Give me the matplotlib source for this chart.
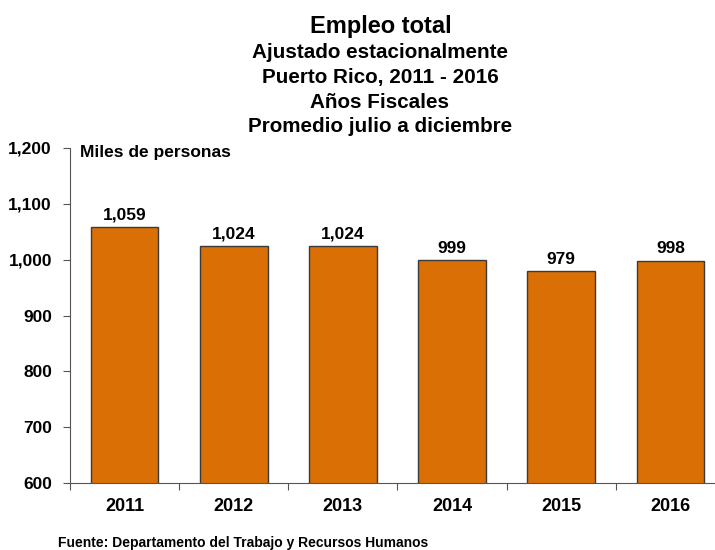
import matplotlib.pyplot as plt
from matplotlib.ticker import FuncFormatter

# Datos
anios = ['2011', '2012', '2013', '2014', '2015', '2016']
empleo = [1059, 1024, 1024, 999, 979, 998]

plt.rcParams['font.family'] = ['Liberation Sans', 'DejaVu Sans']
plt.rcParams['font.weight'] = 'bold'

fig = plt.figure(figsize=(7.15, 5.5), dpi=100)
ax = fig.add_axes([70 / 715, 1 - 483 / 550, 655 / 715, (483 - 148) / 550])

x = range(len(anios))
ax.bar(x, empleo, width=0.62, color='#D96F05', edgecolor='#3a3a3a', linewidth=1.0)

for xi, v in zip(x, empleo):
    ax.text(xi, v + 8, f'{v:,}', ha='center', va='bottom', fontsize=12.5,
            fontweight='bold')

ax.set_ylim(600, 1200)
ax.set_xlim(-0.5, len(anios) - 0.5)
ax.set_yticks(range(600, 1201, 100))
ax.yaxis.set_major_formatter(FuncFormatter(lambda v, p: f'{int(v):,}'))
ax.set_xticks([i - 0.5 for i in range(len(anios))])
ax.set_xticklabels([])
ax.set_xticks(list(x), minor=True)
ax.set_xticklabels(anios, minor=True)
ax.tick_params(axis='x', which='minor', length=0, pad=11, labelsize=13)
ax.tick_params(axis='x', which='major', direction='out', length=5, color='#555555')
ax.tick_params(axis='y', direction='out', length=5, color='#555555', labelsize=12.5, pad=8)
for t in ax.get_xticklabels(minor=True) + ax.get_yticklabels():
    t.set_fontweight('bold')

for s in ['top', 'right']:
    ax.spines[s].set_visible(False)
ax.spines['left'].set_color('#555555')
ax.spines['bottom'].set_color('#555555')

ax.text(10 / 655, 1 - 5 / 335, 'Miles de personas', transform=ax.transAxes, ha='left',
        va='center', fontsize=12.5, fontweight='bold')

# Titulos
fig.text(381 / 715, 1 - 26 / 550, 'Empleo total', ha='center', va='center',
         fontsize=17, fontweight='bold')
subt = ['Ajustado estacionalmente', 'Puerto Rico, 2011 - 2016', 'Años Fiscales',
        'Promedio julio a diciembre']
for i, s in enumerate(subt):
    fig.text(380 / 715, 1 - (53 + i * 24.5) / 550, s, ha='center', va='center',
             fontsize=14.9, fontweight='bold')

fig.text(58 / 715, 1 - 543 / 550, 'Fuente: Departamento del Trabajo y Recursos Humanos',
         ha='left', va='center', fontsize=10, fontweight='bold')

fig.savefig('out.png', dpi=100)
